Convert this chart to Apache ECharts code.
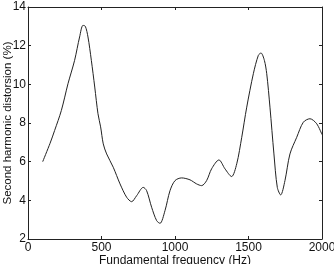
<!DOCTYPE html>
<html><head><meta charset="utf-8">
<script src="https://cdn.jsdelivr.net/npm/echarts@6/dist/echarts.min.js"></script>
<style>html,body{margin:0;padding:0;background:#fff}#c{width:334px;height:264px}</style>
</head><body><div id="c"></div>
<script>
const freqHz = [100,150,181,227,272,317,351,374,390,408,431,454,476,494,512,535,580,626,671,705,739,784,807,841,875,898,932,966,1000,1045,1102,1147,1181,1215,1249,1299,1340,1385,1420,1454,1488,1533,1567,1585,1608,1624,1646,1673,1696,1719,1748,1782,1828,1873,1918,1964,2000];
const distortion = [6.0,6.95,7.61,8.65,10.03,11.24,12.45,13.05,13.0,12.45,11.24,9.86,8.48,7.8,6.92,6.40,5.71,4.85,4.16,3.93,4.24,4.67,4.50,3.64,2.95,2.81,3.47,4.50,5.02,5.16,5.06,4.85,4.76,5.02,5.63,6.09,5.63,5.23,5.89,7.26,8.82,10.55,11.50,11.62,11.24,10.55,8.82,6.40,4.67,4.28,5.02,6.40,7.26,8.04,8.22,7.96,7.40];
const xTicks = [0,500,1000,1500,2000];
const yTicks = [2,4,6,8,10,12,14];

const font = '"Liberation Sans", Arial, sans-serif';
const lineC = '#222';
const axBase = {
  axisLine:{show:true,onZero:false,lineStyle:{color:lineC,width:1}},
  axisTick:{show:true,inside:true,length:3,lineStyle:{color:lineC}},
  splitLine:{show:false}
};
const chart = echarts.init(document.getElementById('c'),null,{renderer:'canvas'});
chart.setOption({
  animation:false,
  backgroundColor:'#fff',
  grid:{left:28,right:12,top:7,bottom:25,containLabel:false,outerBoundsMode:'none'},
  xAxis:[
    Object.assign({type:'value',min:xTicks[0],max:xTicks[xTicks.length-1],interval:500,position:'bottom',
      name:'Fundamental frequency (Hz)',nameLocation:'middle',nameGap:16,nameMoveOverlap:false,
      nameTextStyle:{fontFamily:font,fontSize:12,color:'#111'},
      axisLabel:{fontFamily:font,fontSize:12,color:'#111',margin:3,formatter:v=>String(v)}},axBase),
    Object.assign({type:'value',min:0,max:2000,interval:500,position:'top',axisLabel:{show:false}},axBase)
  ],
  yAxis:[
    Object.assign({type:'value',min:yTicks[0],max:yTicks[yTicks.length-1],interval:2,position:'left',
      name:'Second harmonic distorsion (%)',nameLocation:'middle',nameGap:14,nameMoveOverlap:false,
      nameTextStyle:{fontFamily:font,fontSize:11.5,color:'#111'},
      axisLabel:{fontFamily:font,fontSize:12,color:'#111',margin:2,formatter:v=>String(v)}},axBase),
    Object.assign({type:'value',min:2,max:14,interval:2,position:'right',axisLabel:{show:false}},axBase)
  ],
  series:[{
    type:'line',xAxisIndex:0,yAxisIndex:0,
    data:freqHz.map((f,i)=>[f,distortion[i]]),
    smooth:0.3,showSymbol:false,
    lineStyle:{color:'#222',width:1}
  }]
});
</script></body></html>
